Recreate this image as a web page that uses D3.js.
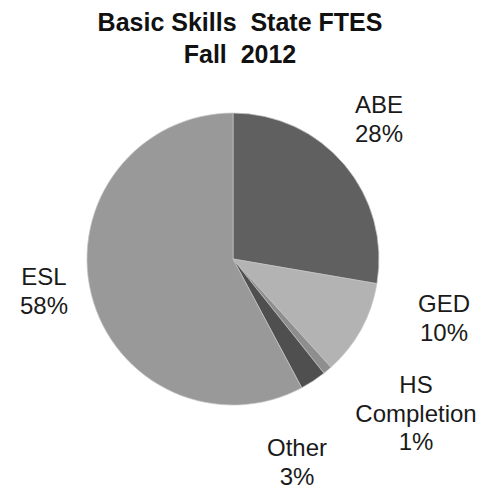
<!DOCTYPE html>
<html><head><meta charset="utf-8">
<script src="https://cdn.jsdelivr.net/npm/d3@7"></script>
<style>body{margin:0;background:#fff}svg{display:block}text{white-space:pre}</style>
</head><body>
<svg id="c" width="488" height="488"></svg>
<script>
const categories = ["ABE", "GED", "HS Completion", "Other", "ESL"];
const values = [27.7, 10.6, 1.0, 2.9, 57.8];
const labels = ["28%", "10%", "1%", "3%", "58%"];
const colors = ["#606060", "#b3b3b3", "#8e8e8e", "#4f4f4f", "#999999"];
const titleLines = ["Basic Skills  State FTES", "Fall  2012"];

const svg = d3.select("#c");
const cx = 233, cy = 259, r = 146;

svg.append("g").selectAll("text").data(titleLines).join("text")
  .attr("x", 240).attr("y", (d, i) => 31 + i * 32)
  .attr("text-anchor", "middle")
  .attr("font-family", "Liberation Sans, Arial, sans-serif")
  .attr("font-weight", "bold").attr("font-size", 25).attr("fill", "#111")
  .text(d => d);

const pie = d3.pie().sort(null).value(d => d)(values);
const arc = d3.arc().innerRadius(0).outerRadius(r);
svg.append("g").attr("transform", `translate(${cx},${cy})`)
  .selectAll("path").data(pie).join("path")
  .attr("d", arc).attr("fill", (d, i) => colors[i])
  .attr("stroke", "#c4c4c4").attr("stroke-width", 0.7);

const labelPos = [
  {x: 379, y: 113, lines: ["ABE"]},
  {x: 444, y: 312, lines: ["GED"]},
  {x: 416, y: 393, lines: ["HS", "Completion"]},
  {x: 297, y: 456, lines: ["Other"]},
  {x: 44, y: 285, lines: ["ESL"]}
];
const lg = svg.append("g")
  .attr("font-family", "Liberation Sans, Arial, sans-serif")
  .attr("font-size", 24).attr("fill", "#1a1a1a").attr("text-anchor", "middle");
categories.forEach((c, i) => {
  const p = labelPos[i];
  const lines = p.lines.concat([labels[i]]);
  lines.forEach((t, j) => {
    lg.append("text").attr("x", p.x).attr("y", p.y + j * 28.5).text(t);
  });
});
</script>
</body></html>
